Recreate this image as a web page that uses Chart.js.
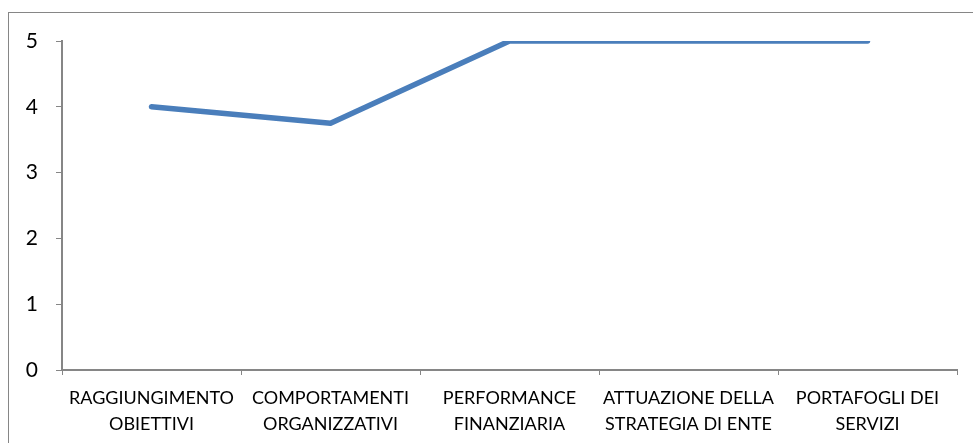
<!DOCTYPE html>
<html><head><meta charset="utf-8">
<script src="https://cdn.jsdelivr.net/npm/chart.js@4/dist/chart.umd.min.js"></script>
<style>html,body{margin:0;padding:0;background:#fff;}#wrap{width:973px;height:443px;position:relative;}</style>
</head><body><div id="wrap"><canvas id="c" width="973" height="443"></canvas></div>
<script>
const categories = [["RAGGIUNGIMENTO","OBIETTIVI"],["COMPORTAMENTI","ORGANIZZATIVI"],["PERFORMANCE","FINANZIARIA"],["ATTUAZIONE DELLA","STRATEGIA DI ENTE"],["PORTAFOGLI DEI","SERVIZI"]];
const values = [4, 3.75, 5, 5, 5];
const yTicks = [0, 1, 2, 3, 4, 5];

const frame = {
  id: 'frame',
  beforeDraw(chart) {
    const ctx = chart.ctx;
    ctx.save();
    ctx.fillStyle = '#fff';
    ctx.fillRect(0, 0, chart.width, chart.height);
    ctx.strokeStyle = '#868686';
    ctx.lineWidth = 1;
    ctx.strokeRect(8.5, 12.5, 1100, 1100);
    ctx.restore();
  }
};

new Chart(document.getElementById('c'), {
  type: 'line',
  data: {
    labels: categories,
    datasets: [{
      data: values,
      borderColor: '#4a7ebb',
      borderWidth: 5.5,
      pointRadius: 0,
      tension: 0,
      borderCapStyle: 'round',
      borderJoinStyle: 'round',
      fill: false
    }]
  },
  options: {
    responsive: false,
    animation: false,
    layout: { padding: { left: 0, right: 16, top: 41, bottom: 0 } },
    plugins: { legend: { display: false }, tooltip: { enabled: false } },
    scales: {
      x: {
        offset: true,
        grid: { display: true, offset: true, drawOnChartArea: false, drawTicks: true, tickLength: 5, color: '#868686', lineWidth: 1 },
        border: { display: true, color: '#868686', width: 2 },
        ticks: { color: '#000', font: { family: 'Lato', size: 18, lineHeight: 1.4 }, padding: 11, maxRotation: 0, autoSkip: false },
        afterFit(s) { s.height = 73; }
      },
      y: {
        min: 0, max: 5,
        afterBuildTicks(s) { s.ticks = yTicks.map(v => ({ value: v })); },
        grid: { display: true, drawOnChartArea: false, drawTicks: true, tickLength: 6, color: '#868686', lineWidth: 1 },
        border: { display: true, color: '#868686', width: 2 },
        ticks: { color: '#000', font: { family: 'Lato', size: 21 }, padding: 18 },
        afterFit(s) { s.width = 62; }
      }
    }
  },
  plugins: [frame]
});
</script></body></html>
